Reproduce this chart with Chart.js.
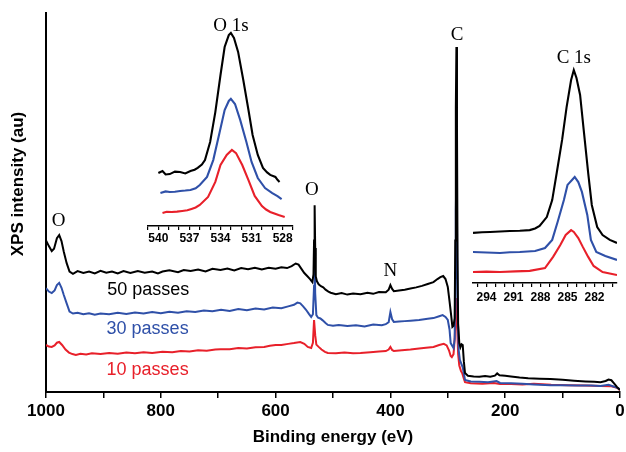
<!DOCTYPE html>
<html>
<head>
<meta charset="utf-8">
<script src="https://cdn.jsdelivr.net/npm/chart.js@4.4.1/dist/chart.umd.min.js"></script>
<style>
html,body{margin:0;padding:0;background:#fff}
#wrap{position:relative;width:626px;height:452px}
canvas{position:absolute}
#cMain{left:0;top:0}
#cO{left:140px;top:10px}
#cC{left:465px;top:40px}
</style>
</head>
<body>
<div id="wrap">
  <canvas id="cMain" width="626" height="452"></canvas>
  <canvas id="cO" width="165" height="240"></canvas>
  <canvas id="cC" width="161" height="270"></canvas>
</div>
<script>
// survey spectra: [binding energy eV, intensity au]
const black50 = [[1000,40.0],[995,38.5],[990,37.2],[986,37.8],[981,40.6],[977,41.4],[973,39.8],[969,37.0],[964,34.0],[959,31.8],[953,31.2],[945,31.9],[935,31.4],[925,31.8],[915,31.3],[905,32.0],[895,31.5],[885,31.8],[875,31.3],[865,31.9],[853,31.4],[840,31.9],[828,31.5],[815,31.8],[805,31.3],[797,31.8],[785,32.1],[770,31.6],[760,32.2],[748,31.9],[735,32.3],[722,31.8],[710,32.5],[696,32.2],[684,32.6],[672,32.1],[660,32.7],[648,32.4],[636,32.8],[624,32.3],[612,32.8],[600,32.5],[590,32.9],[580,32.7],[572,33.2],[565,33.9],[560,33.6],[555,32.5],[550,31.4],[545,30.6],[540,29.8],[536,29.0],[534,31.0],[533,40.0],[532,49.3],[531,38.0],[530,30.5],[528,29.2],[525,28.4],[521,27.9],[517,27.6],[513,27.0],[508,26.5],[504,26.2],[495,25.8],[485,26.1],[475,25.7],[465,26.0],[452,25.8],[440,26.2],[430,25.9],[420,26.4],[408,26.3],[403,27.0],[400,28.2],[397,27.2],[394,26.6],[385,26.8],[375,27.0],[365,27.3],[355,27.6],[345,28.0],[335,28.5],[325,29.0],[318,29.8],[313,30.3],[308,30.6],[304,29.8],[300,27.7],[297,24.0],[294,20.0],[292,17.2],[290,17.5],[288,19.5],[287,40.0],[286,75.0],[285,91.0],[284,70.0],[283,35.0],[282,18.0],[280,13.0],[278,11.8],[276,12.6],[274,12.4],[272,8.0],[270,5.0],[265,4.3],[255,4.1],[245,4.0],[235,4.2],[226,4.0],[218,4.3],[214,4.9],[210,4.4],[200,4.3],[190,4.1],[175,3.8],[160,3.6],[140,3.5],[121,3.4],[100,3.2],[80,3.0],[60,2.8],[45,2.7],[34,2.6],[25,2.9],[20,3.3],[15,3.1],[10,2.2],[5,1.3],[0,0.5]];
const blue30 = [[1000,27.4],[995,26.5],[990,26.1],[985,26.8],[981,28.2],[977,28.8],[973,27.5],[969,25.6],[964,23.4],[959,21.2],[953,20.7],[945,20.9],[935,20.5],[925,20.8],[915,20.4],[905,20.7],[890,20.5],[875,20.9],[860,20.6],[845,21.0],[830,20.7],[815,21.1],[800,20.8],[785,21.2],[770,20.9],[755,21.3],[740,21.1],[725,21.5],[710,21.3],[695,21.7],[680,21.4],[665,21.9],[650,21.6],[635,22.0],[620,21.8],[605,22.3],[590,22.1],[578,22.6],[568,23.0],[562,23.6],[557,23.4],[552,22.6],[547,21.7],[542,20.6],[538,19.8],[535,20.5],[533,28.0],[532,36.1],[531,26.0],[529,20.3],[526,19.6],[522,19.4],[518,18.9],[513,18.2],[509,17.7],[500,17.5],[490,17.7],[475,17.4],[460,17.6],[445,17.3],[430,17.8],[415,17.6],[408,17.9],[403,18.4],[400,21.1],[397,19.2],[394,18.5],[385,18.6],[375,18.7],[365,18.8],[350,19.0],[335,19.3],[325,19.5],[315,20.0],[309,20.3],[304,19.8],[300,19.0],[297,16.5],[295,12.9],[290,11.6],[288,14.0],[287,30.0],[286,48.0],[285,57.3],[284,45.0],[283,22.0],[281,11.0],[279,8.5],[277,7.7],[274,6.5],[270,3.2],[260,2.8],[245,2.7],[230,2.6],[215,2.9],[209,2.4],[190,2.3],[170,2.2],[150,2.0],[121,1.8],[100,1.8],[75,1.7],[50,1.7],[34,1.6],[20,1.9],[10,1.4],[0,0.8]];
const red10 = [[1000,12.4],[995,12.0],[990,11.9],[985,12.3],[981,13.0],[977,13.2],[972,12.4],[966,11.2],[960,10.4],[954,10.0],[948,9.8],[940,10.1],[930,9.9],[920,10.2],[905,10.0],[890,10.3],[875,10.1],[860,10.4],[845,10.2],[830,10.5],[815,10.3],[797,10.6],[780,10.5],[765,10.8],[750,10.7],[735,11.0],[720,10.9],[705,11.2],[696,11.3],[680,11.3],[665,11.6],[650,11.5],[635,11.8],[620,11.9],[610,12.2],[600,12.4],[590,12.4],[578,12.7],[568,12.9],[557,13.2],[550,12.7],[544,11.9],[538,11.6],[535,13.0],[533,19.0],[531,15.0],[529,12.5],[525,11.9],[520,11.2],[514,10.6],[509,10.3],[495,10.2],[480,10.4],[465,10.2],[452,10.3],[435,10.5],[420,10.7],[408,10.8],[403,11.2],[400,11.9],[397,11.1],[394,10.8],[380,11.0],[365,11.2],[350,11.5],[338,11.7],[325,11.9],[315,12.4],[307,12.7],[302,12.3],[298,11.0],[295,9.5],[293,9.2],[290,10.0],[288,14.0],[286,21.0],[285,24.8],[284,19.0],[282,10.0],[280,7.0],[277,5.5],[275,5.0],[272,3.5],[270,2.6],[260,2.3],[240,2.2],[220,2.4],[209,2.1],[190,2.1],[170,2.0],[150,2.2],[120,1.9],[90,1.8],[60,1.7],[34,1.6],[15,1.5],[5,1.1],[0,0.5]];

// O 1s high resolution
const o1sBlack = [[540.0,25.7],[539.6,26.7],[539.3,25.0],[538.9,25.2],[538.4,26.4],[537.9,26.2],[537.4,25.5],[536.9,26.7],[536.5,27.3],[536.2,28.2],[535.8,29.8],[535.5,32.0],[535.0,40.8],[534.5,55.3],[534.0,73.3],[533.6,86.9],[533.2,92.7],[533.0,93.7],[532.7,91.3],[532.3,84.5],[531.8,70.9],[531.3,56.3],[530.9,44.2],[530.4,34.5],[529.9,28.2],[529.5,26.0],[529.2,24.8],[528.7,23.8],[528.5,22.4],[528.3,21.4]];
const o1sBlue = [[539.8,16.0],[539.3,16.8],[538.9,16.5],[538.4,16.6],[537.9,17.0],[537.4,17.2],[536.9,17.5],[536.4,18.3],[536.0,19.9],[535.3,23.8],[534.7,32.0],[534.1,45.1],[533.6,56.3],[533.2,60.7],[533.0,61.7],[532.6,59.2],[532.1,51.5],[531.5,40.8],[531.0,31.1],[530.4,23.3],[529.7,18.4],[529.0,16.0],[528.5,14.5],[528.1,13.1]];
const o1sRed = [[539.6,6.3],[539.2,6.9],[538.7,6.8],[538.2,7.0],[537.7,7.3],[537.2,7.6],[536.8,8.3],[536.4,9.0],[536.0,10.2],[535.2,14.1],[534.5,21.4],[534.0,29.6],[533.4,34.5],[532.9,36.9],[532.5,35.4],[531.9,29.6],[531.3,22.3],[530.7,14.6],[530.0,9.7],[529.6,8.0],[529.2,6.8],[528.4,5.3],[527.8,4.4]];

// C 1s high resolution
const c1sBlack = [[295.5,21.5],[294.5,21.8],[293.6,21.9],[292.5,22.1],[291.4,22.3],[290.3,22.4],[289.2,22.7],[288.6,23.4],[288.1,24.5],[287.3,28.3],[286.7,35.6],[286.2,47.2],[285.6,61.4],[285.1,75.5],[284.6,87.1],[284.3,91.4],[284.0,88.0],[283.6,80.7],[283.2,65.7],[282.7,47.2],[282.3,33.5],[281.7,24.0],[281.1,20.6],[280.3,18.5],[279.5,17.2]];
const c1sBlue = [[295.5,13.3],[294.0,13.1],[292.5,12.9],[291.4,13.2],[290.3,13.3],[288.6,13.7],[287.5,15.0],[286.7,18.5],[286.1,26.2],[285.4,35.6],[285.0,42.1],[284.5,44.2],[284.2,45.5],[283.8,43.3],[283.4,39.1],[282.8,29.2],[282.4,18.5],[281.8,13.3],[280.8,11.6],[279.5,9.9]];
const c1sRed = [[295.5,4.7],[294.0,4.9],[292.5,4.7],[290.8,5.0],[289.2,5.2],[287.5,6.4],[286.6,11.2],[285.8,16.3],[285.2,20.6],[284.6,22.7],[284.3,21.9],[283.8,19.3],[283.3,15.5],[282.7,11.2],[282.1,7.3],[281.1,4.7],[279.5,3.4]];

const mainTicks  = [0,100,200,300,400,500,600,700,800,900,1000];
const mainLabels = [0,200,400,600,800,1000];
const oTicks  = [527,528,529,530,531,532,533,534,535,536,537,538,539,540,541];
const oLabels = [540,537,534,531,528];
const cTicks  = [280,281,282,283,284,285,286,287,288,289,290,291,292,293,294,295];
const cLabels = [294,291,288,285,282];

const SANS  = '"Liberation Sans", Arial, sans-serif';
const SERIF = '"Liberation Serif", "Times New Roman", serif';
const BLACK = '#000000', BLUE = '#2f50a8', RED = '#e8202a';

// text on the main plot, placed in data coordinates
const peakLabels = [
  {text:'O', ev:978, i:45.1, font:'19px '+SERIF, color:BLACK},
  {text:'O', ev:537, i:53.4, font:'19px '+SERIF, color:BLACK},
  {text:'N', ev:400, i:31.8, font:'19px '+SERIF, color:BLACK},
  {text:'C', ev:284, i:94.3, font:'19px '+SERIF, color:BLACK},
  {text:'50 passes', ev:822, i:26.8, font:'18px '+SANS, color:BLACK},
  {text:'30 passes', ev:823, i:16.5, font:'18px '+SANS, color:BLUE},
  {text:'10 passes', ev:823, i:5.9, font:'18px '+SANS, color:RED}
];

const toXY = arr => arr.map(p => ({x:p[0], y:p[1]}));
function ds(label, pts, color, w){
  return {label, data:toXY(pts), borderColor:color, backgroundColor:color,
    borderWidth:w, pointRadius:0, tension:0, fill:false};
}

const mainText = {
  id:'mainText',
  afterDatasetsDraw(chart){
    const {ctx, scales:{x, y}} = chart;
    ctx.save();
    ctx.textAlign = 'center'; ctx.textBaseline = 'middle';
    peakLabels.forEach(l => {
      ctx.font = l.font; ctx.fillStyle = l.color;
      ctx.fillText(l.text, x.getPixelForValue(l.ev), y.getPixelForValue(l.i));
    });
    // y title sits a bit above the axis middle in the original
    ctx.translate(18, 184); ctx.rotate(-Math.PI/2);
    ctx.font = 'bold 17px '+SANS; ctx.fillStyle = '#000';
    ctx.fillText('XPS intensity (au)', 0, 0);
    ctx.restore();
  }
};

function insetText(text, ev, i){
  return {
    id:'insetText',
    afterDatasetsDraw(chart){
      const {ctx, scales:{x, y}} = chart;
      ctx.save();
      ctx.textAlign = 'center'; ctx.textBaseline = 'middle';
      ctx.font = '19px '+SERIF; ctx.fillStyle = '#000';
      ctx.fillText(text, x.getPixelForValue(ev), y.getPixelForValue(i));
      ctx.restore();
    }
  };
}

new Chart(document.getElementById('cMain'), {
  type:'line',
  data:{datasets:[ds('50 passes',black50,BLACK,2), ds('30 passes',blue30,BLUE,2), ds('10 passes',red10,RED,2)]},
  options:{
    responsive:false, animation:false, devicePixelRatio:1,
    layout:{padding:{top:13,right:6,left:0,bottom:0}},
    plugins:{legend:{display:false}, tooltip:{enabled:false}},
    scales:{
      x:{type:'linear', reverse:true, min:0, max:1000,
        afterBuildTicks:s => { s.ticks = mainTicks.map(v => ({value:v})); },
        afterFit:s => { s.height = 60; },
        grid:{drawOnChartArea:false, drawTicks:true, tickLength:6, color:'#000', lineWidth:1.5},
        border:{color:'#000', width:2},
        ticks:{autoSkip:false, maxRotation:0, padding:3, color:'#000',
          font:{family:SANS, size:17, weight:'bold'},
          callback:v => mainLabels.includes(v) ? String(v) : ''},
        title:{display:true, text:'Binding energy (eV)', color:'#000',
          font:{family:SANS, size:17, weight:'bold'}, padding:{top:0, bottom:4}}},
      y:{min:0, max:100,
        afterFit:s => { s.width = 46; },
        grid:{drawOnChartArea:false, drawTicks:false},
        border:{color:'#000', width:2},
        ticks:{display:false}}
    }
  },
  plugins:[mainText]
});

function insetChart(id, sets, min, max, ticks, labels, pad, axisH, lblPad, title){
  return new Chart(document.getElementById(id), {
    type:'line',
    data:{datasets:[ds('50 passes',sets[0],BLACK,2.1), ds('30 passes',sets[1],BLUE,2.1), ds('10 passes',sets[2],RED,2.1)]},
    options:{
      responsive:false, animation:false, devicePixelRatio:1,
      layout:{padding:pad},
      plugins:{legend:{display:false}, tooltip:{enabled:false}},
      scales:{
        x:{type:'linear', reverse:true, min, max,
          afterBuildTicks:s => { s.ticks = ticks.map(v => ({value:v})); },
          afterFit:s => { s.height = axisH; },
          grid:{drawOnChartArea:false, tickLength:4, color:'#000', lineWidth:1.2},
          border:{color:'#000', width:1.5},
          ticks:{autoSkip:false, maxRotation:0, padding:lblPad, color:'#000',
            font:{family:SANS, size:12, weight:'bold'},
            callback:v => labels.includes(v) ? String(v) : ''}},
        y:{display:false, min:0, max:100}
      }
    },
    plugins:[insetText(title.text, title.ev, title.i)]
  });
}

insetChart('cO', [o1sBlack,o1sBlue,o1sRed], 527, 541, oTicks, oLabels,
  {top:10,left:8,right:12,bottom:0}, 24, 1, {text:'O 1s', ev:533.0, i:97.1});
insetChart('cC', [c1sBlack,c1sBlue,c1sRed], 279.5, 295.5, cTicks, cLabels,
  {top:10,left:8,right:9,bottom:0}, 27, 3, {text:'C 1s', ev:284.3, i:96.6});
</script>
</body>
</html>
